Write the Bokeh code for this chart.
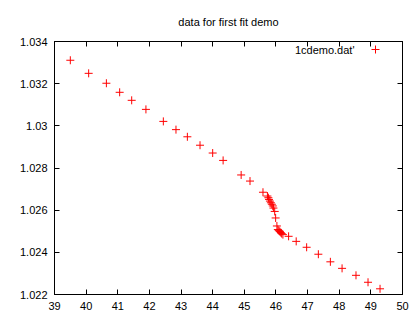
from bokeh.plotting import figure
from bokeh.models import (Range1d, LinearAxis, FixedTicker, Label, Legend, LegendItem, ColumnDataSource)
from bokeh.core.properties import value
from bokeh.embed import file_html
from bokeh.resources import INLINE

temperature = [39.50, 40.08, 40.64, 41.06, 41.44, 41.89, 42.44, 42.84, 43.20, 43.60,
               44.00, 44.33, 44.90, 45.18, 45.59, 45.73, 45.76, 45.78, 45.81, 45.84,
               45.87, 45.90, 45.92, 45.96, 45.99, 46.03, 46.06, 46.09, 46.12, 46.15,
               46.18, 46.22, 46.40, 46.64, 46.97, 47.34, 47.72, 48.09, 48.53, 48.91, 49.29]
density = [1.03311, 1.03249, 1.03202, 1.03159, 1.03121, 1.03078, 1.03021, 1.02982, 1.02948, 1.02908,
           1.02871, 1.02836, 1.02767, 1.02738, 1.02685, 1.02667, 1.02659, 1.02651, 1.02643, 1.02635,
           1.02628, 1.02620, 1.02610, 1.02594, 1.02563, 1.02525, 1.02508, 1.02503, 1.02499, 1.02494,
           1.02489, 1.02484, 1.02476, 1.02452, 1.02424, 1.02391, 1.02355, 1.02324, 1.02291, 1.02258, 1.02227]

x_ticks = [39, 40, 41, 42, 43, 44, 45, 46, 47, 48, 49, 50]
x_tick_labels = ["39", "40", "41", "42", "43", "44", "45", "46", "47", "48", "49", "50"]
y_ticks = [1.022, 1.024, 1.026, 1.028, 1.030, 1.032, 1.034]
y_tick_labels = ["1.022", "1.024", "1.026", "1.028", "1.03", "1.032", "1.034"]

title_text = "data for first fit demo"
series_name = "1cdemo.dat'"

FONT = "Liberation Sans"
FS = "11px"

p = figure(frame_width=348, frame_height=253,
           output_backend="svg", toolbar_location=None,
           x_range=Range1d(39, 50), y_range=Range1d(1.022, 1.034),
           title=title_text, x_axis_location=None, y_axis_location=None,
           min_border_left=54, min_border_right=12, min_border_top=0, min_border_bottom=20)

p.title.align = "center"
p.title.text_font = FONT
p.title.text_font_size = FS
p.title.text_font_style = "normal"
p.title.text_color = "black"
p.title.standoff = 27

p.grid.visible = False
p.outline_line_color = "black"
p.outline_line_width = 1
p.background_fill_color = "white"
p.border_fill_color = "white"


def make_axis(ticks, labels, show_labels):
    ax = LinearAxis(ticker=FixedTicker(ticks=ticks))
    ax.major_tick_in = 5
    ax.major_tick_out = 0
    ax.minor_tick_in = 0
    ax.minor_tick_out = 0
    ax.axis_line_color = "black"
    ax.major_tick_line_color = "black"
    ax.major_label_text_font = FONT
    if show_labels:
        ax.major_label_overrides = {t: l for t, l in zip(ticks, labels)}
        ax.major_label_text_font_size = FS
        ax.major_label_text_color = "black"
        ax.major_label_standoff = 7
    else:
        ax.major_label_overrides = {t: "" for t in ticks}
        ax.major_label_text_font_size = "1px"
        ax.major_label_text_color = None
        ax.major_label_standoff = 0
    return ax

p.add_layout(make_axis(x_ticks, x_tick_labels, True), "below")
p.add_layout(make_axis(y_ticks, y_tick_labels, True), "left")
p.add_layout(make_axis(x_ticks, x_tick_labels, False), "above")
p.add_layout(make_axis(y_ticks, y_tick_labels, False), "right")

src = ColumnDataSource(data=dict(t=temperature, d=density))
r = p.scatter("t", "d", source=src, marker="cross", size=8, line_color="red",
              line_width=1, fill_color=None)

legend = Legend(items=[LegendItem(label=value(""), renderers=[r])],
                location=(311, 235), padding=0, margin=0, spacing=0,
                glyph_width=20, glyph_height=20, label_width=0, label_height=20,
                label_standoff=0, border_line_color=None, background_fill_alpha=0)
p.add_layout(legend, "center")

lbl = Label(x=300, y=245, x_units="screen", y_units="screen", text=series_name,
            text_align="right", text_baseline="middle", text_font=FONT,
            text_font_size=FS, text_color="black")
p.add_layout(lbl)

open("out.html", "w").write(file_html(p, INLINE))
